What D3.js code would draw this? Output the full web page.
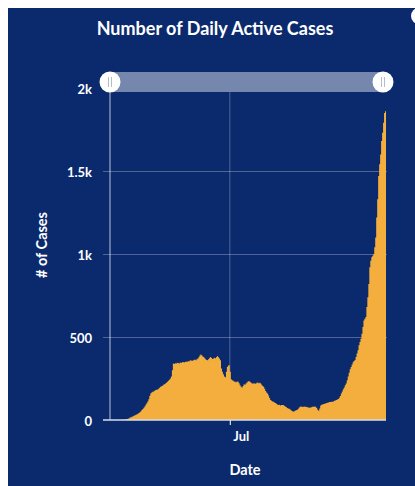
<!DOCTYPE html>
<html>
<head>
<meta charset="utf-8">
<script src="https://cdn.jsdelivr.net/npm/d3@7"></script>
<style>
  html, body { margin: 0; padding: 0; background: #ffffff; }
  svg { display: block; }
  text { font-family: Lato, "Open Sans", sans-serif; }
</style>
</head>
<body>
<svg id="chart" width="415" height="486"></svg>
<script>
// Daily active case counts, one value per day starting 1 March 2020
const startDate = "2020-03-01";
const endDate = "2020-12-08";
const activeCases = [
  0,0,0,0,0,0,0,0,0,0,
  0,0,1,1,2,3,4,6,8,11,
  15,17,20,22,25,28,31,35,38,42,
  47,53,60,66,74,82,92,101,112,125,
  145,160,165,170,172,176,180,182,184,188,
  195,200,204,207,212,216,220,224,230,236,
  242,250,262,300,340,338,342,340,345,343,
  341,346,344,348,350,347,350,352,349,355,
  353,358,360,356,358,362,364,360,366,370,
  378,388,395,390,382,380,372,366,362,360,
  368,375,380,374,368,370,375,372,380,385,
  378,370,360,310,290,275,262,258,290,320,
  328,330,290,245,240,236,232,230,228,232,
  230,222,210,200,196,205,215,212,220,226,
  232,235,230,226,222,218,222,220,218,224,
  226,222,225,220,212,205,200,188,175,165,
  160,148,132,120,116,112,110,106,102,98,
  94,90,92,88,90,91,90,86,82,78,
  72,70,68,64,58,54,50,52,56,58,
  60,66,74,80,82,80,78,82,80,80,
  78,76,75,74,76,78,80,82,80,80,
  72,62,55,70,88,92,94,96,98,100,
  102,104,106,108,108,110,110,112,116,118,
  120,124,126,134,145,160,172,185,196,210,
  220,240,262,285,305,320,335,348,355,362,
  380,400,420,450,470,490,520,560,600,610,
  620,680,740,820,920,960,980,990,1000,1040,
  1100,1220,1330,1470,1540,1600,1680,1730,1790,1850,
  1860
];
const yTicks = [0, 500, 1000, 1500, 2000];
const xTickDates = ["2020-07-01"];
const xTickLabels = ["Jul"];

const title = "Number of Daily Active Cases";
const yTitle = "# of Cases";
const xTitle = "Date";

const navy = "#0b2a6e";
const bar = "#f4ae3d";

const parse = d3.utcParse("%Y-%m-%d");
const t0 = parse(startDate);
const series = activeCases.map((v, i) => ({ date: d3.utcDay.offset(t0, i), value: v }));
// closing point so the last day gets its full width in the step area
series.push({ date: d3.utcDay.offset(t0, activeCases.length), value: activeCases[activeCases.length - 1] });

const svg = d3.select("#chart");
const W = 415, H = 486;

// panel
svg.append("rect").attr("x", 8).attr("y", 8).attr("width", W - 8).attr("height", H - 8).attr("fill", navy);
svg.append("circle").attr("cx", 419).attr("cy", 16).attr("r", 8).attr("fill", "#ffffff");

const m = { left: 110, right: 387, top: 88, bottom: 420 };
const x = d3.scaleUtc().domain([t0, parse(endDate)]).range([m.left, m.right]);
const y = d3.scaleLinear().domain([0, 2000]).range([m.bottom, m.top]);
const yMax = y.domain()[1];

// horizontal grid + y axis (top line sits under the range slider, so it is hidden)
const yAxis = d3.axisLeft(y)
  .tickValues(yTicks)
  .tickFormat(d => d === 0 ? "0" : (d >= 1000 ? d3.format("~")(d / 1000) + "k" : d))
  .tickSize(0);
const gy = svg.append("g").attr("transform", `translate(${m.left},0)`).call(yAxis);
gy.select(".domain").remove();
gy.selectAll(".tick line")
  .attr("x1", -7).attr("x2", m.right - m.left)
  .attr("stroke", "#ffffff")
  .attr("stroke-opacity", d => (d === 0 || d === yMax) ? 0 : 0.28)
  .attr("stroke-width", 1);
gy.selectAll(".tick text")
  .attr("x", -18).attr("dy", "0.4em")
  .attr("fill", "#ffffff").attr("font-size", 13).attr("font-weight", 700);

// vertical grid at x ticks
const xt = xTickDates.map(parse);
svg.append("g").selectAll("line").data(xt).join("line")
  .attr("x1", d => x(d)).attr("x2", d => x(d))
  .attr("y1", 92).attr("y2", m.bottom)
  .attr("stroke", "#ffffff").attr("stroke-opacity", 0.28);

// left axis line
svg.append("line")
  .attr("x1", m.left).attr("x2", m.left).attr("y1", 92).attr("y2", m.bottom)
  .attr("stroke", "#ffffff").attr("stroke-opacity", 0.6).attr("stroke-width", 1.2);

// daily bars as a stepped area
const area = d3.area()
  .curve(d3.curveStepAfter)
  .x(d => x(d.date))
  .y0(y(0))
  .y1(d => y(d.value));
svg.append("path").datum(series).attr("d", area).attr("fill", bar);

// baseline
svg.append("line")
  .attr("x1", m.left - 7).attr("x2", x(series[series.length - 1].date))
  .attr("y1", m.bottom).attr("y2", m.bottom)
  .attr("stroke", "#d9dcea").attr("stroke-width", 1.6);

// x axis ticks and labels
const xAxis = d3.axisBottom(x).tickValues(xt).tickFormat((d, i) => xTickLabels[i]).tickSize(5).tickPadding(7);
const gx = svg.append("g").attr("transform", `translate(0,${m.bottom})`).call(xAxis);
gx.select(".domain").remove();
gx.selectAll(".tick line").attr("stroke", "#d9dcea").attr("stroke-width", 1.2);
gx.selectAll(".tick text").attr("x", 11).attr("fill", "#ffffff").attr("font-size", 13).attr("font-weight", 700);

// range slider
const sliderY = 82;
const hx0 = x(t0), hx1 = 383;
svg.append("rect")
  .attr("x", hx0).attr("y", sliderY - 10).attr("width", hx1 - hx0).attr("height", 20)
  .attr("fill", "#ffffff").attr("fill-opacity", 0.44);
const handles = svg.append("g").selectAll("g").data([hx0, hx1]).join("g")
  .attr("transform", d => `translate(${d},${sliderY})`);
handles.append("circle").attr("r", 10.5).attr("fill", "#ffffff");
handles.selectAll("line").data([-1.5, 1.5]).join("line")
  .attr("x1", d => d).attr("x2", d => d).attr("y1", -5).attr("y2", 5)
  .attr("stroke", "#b8bcc8").attr("stroke-width", 1);

// titles
svg.append("text").attr("x", 215).attr("y", 35).attr("text-anchor", "middle")
  .attr("fill", "#ffffff").attr("font-size", 18).attr("font-weight", 700).text(title);
svg.append("text").attr("transform", `translate(47,245) rotate(-90)`).attr("text-anchor", "middle")
  .attr("fill", "#ffffff").attr("font-size", 14.5).attr("font-weight", 700).text(yTitle);
svg.append("text").attr("x", 245).attr("y", 475).attr("text-anchor", "middle")
  .attr("fill", "#ffffff").attr("font-size", 14.5).attr("font-weight", 700).text(xTitle);
</script>
</body>
</html>
